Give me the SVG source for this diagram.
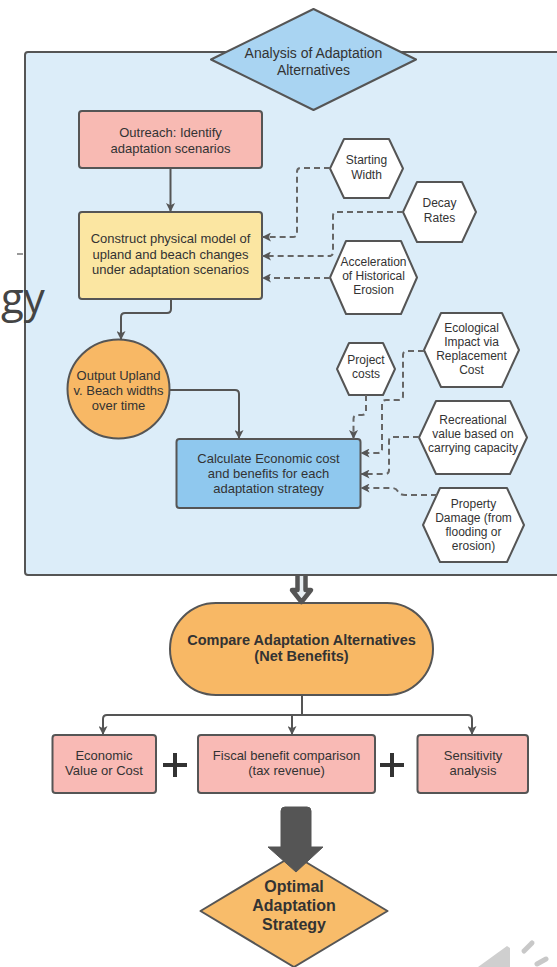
<svg xmlns="http://www.w3.org/2000/svg" width="557" height="967" viewBox="0 0 557 967">
<style>
  text { font-family: "Liberation Sans", Arial, sans-serif; fill: #333; text-anchor: middle; }
  .t13 { font-size: 13px; }
  .t12 { font-size: 12px; }
  .b { font-weight: bold; }
  .node { stroke: #555; stroke-width: 2; stroke-linejoin: round; }
  .hex { fill: #fff; stroke: #555; stroke-width: 2; stroke-linejoin: round; }
  .solid { fill: none; stroke: #555; stroke-width: 2; }
  .dash { fill: none; stroke: #666; stroke-width: 2; stroke-dasharray: 6 4; }
</style>
<defs>
  <marker id="ah" viewBox="0 0 10 10" refX="10" refY="5" markerWidth="4.5" markerHeight="4.5" orient="auto" markerUnits="strokeWidth">
    <path d="M0,0 L10,5 L0,10 L2.5,5 z" fill="#555"/>
  </marker>
</defs>
<rect width="557" height="967" fill="#fff"/>

<g id="container">
  <rect x="25" y="52" width="545" height="523" rx="3" fill="#dcedf9" stroke="#555" stroke-width="2"/>
</g>
<g id="background-text">
  <text x="1" y="313" style="font-family:'Open Sans',sans-serif;font-size:42px;fill:#444;text-anchor:start">gy</text>
  <line x1="17" y1="254" x2="23" y2="254" stroke="#777" stroke-width="1.5"/>
</g>

<g id="analysis">
  <polygon class="node" points="211,59.5 313.5,9 416,59.5 313.5,110" fill="#a9d4f2"/>
  <text x="313.5" y="58" style="font-size:14px">Analysis of Adaptation</text>
  <text x="313.5" y="75" style="font-size:14px">Alternatives</text>
</g>

<g id="outreach">
  <rect class="node" x="79" y="111" width="183" height="57" rx="3" fill="#f8bab3"/>
  <text class="t13" x="170.5" y="137">Outreach: Identify</text>
  <text class="t13" x="170.5" y="153">adaptation scenarios</text>
</g>

<g id="construct">
  <rect class="node" x="79" y="212" width="183" height="87" rx="3" fill="#fbe6a2"/>
  <text class="t13" x="170.5" y="243">Construct physical model of</text>
  <text class="t13" x="170.5" y="259">upland and beach changes</text>
  <text class="t13" x="170.5" y="274">under adaptation scenarios</text>
</g>

<g id="starting-width">
  <polygon class="hex" points="330,168.5 344,139 389,139 403,168.5 389,198 344,198"/>
  <text class="t12" x="366.5" y="164">Starting</text>
  <text class="t12" x="366.5" y="179">Width</text>
</g>

<g id="decay-rates">
  <polygon class="hex" points="403,212 417,182 462,182 476,212 462,242 417,242"/>
  <text class="t12" x="439.5" y="207">Decay</text>
  <text class="t12" x="439.5" y="222">Rates</text>
</g>

<g id="acceleration">
  <polygon class="hex" points="330,277.5 346,241 401,241 417,277.5 401,314 346,314"/>
  <text class="t12" x="373.5" y="266">Acceleration</text>
  <text class="t12" x="373.5" y="280">of Historical</text>
  <text class="t12" x="373.5" y="294">Erosion</text>
</g>

<g id="output-widths">
  <ellipse class="node" cx="118.5" cy="389" rx="51" ry="49.5" fill="#f8b865"/>
  <text class="t13" x="118.5" y="380">Output Upland</text>
  <text class="t13" x="118.5" y="395">v. Beach widths</text>
  <text class="t13" x="118.5" y="410">over time</text>
</g>

<g id="project-costs">
  <polygon class="hex" points="337,369 349,343 383,343 395,369 383,395 349,395"/>
  <text class="t12" x="366" y="364">Project</text>
  <text class="t12" x="366" y="378">costs</text>
</g>

<g id="ecological">
  <polygon class="hex" points="424,350 441,313 502,313 519,350 502,387 441,387"/>
  <text class="t12" x="471.5" y="332">Ecological</text>
  <text class="t12" x="471.5" y="346">Impact via</text>
  <text class="t12" x="471.5" y="360">Replacement</text>
  <text class="t12" x="471.5" y="374">Cost</text>
</g>

<g id="recreational">
  <polygon class="hex" points="419,437.5 436,401 510,401 527,437.5 510,474 436,474"/>
  <text class="t12" x="473" y="424">Recreational</text>
  <text class="t12" x="473" y="438">value based on</text>
  <text class="t12" x="473" y="452">carrying capacity</text>
</g>

<g id="property-damage">
  <polygon class="hex" points="423,525 440,488 507,488 524,525 507,562 440,562"/>
  <text class="t12" x="473.5" y="508">Property</text>
  <text class="t12" x="473.5" y="522">Damage (from</text>
  <text class="t12" x="473.5" y="536">flooding or</text>
  <text class="t12" x="473.5" y="550">erosion)</text>
</g>

<g id="calculate">
  <rect class="node" x="176.5" y="439" width="184" height="69" rx="3" fill="#8fc8ee"/>
  <text class="t13" x="268.5" y="463">Calculate Economic cost</text>
  <text class="t13" x="268.5" y="478">and benefits for each</text>
  <text class="t13" x="268.5" y="493">adaptation strategy</text>
</g>

<g id="compare">
  <rect class="node" x="170" y="603" width="263" height="92" rx="46" fill="#f8b865"/>
  <text class="b" x="301.5" y="645" style="font-size:14.5px">Compare Adaptation Alternatives</text>
  <text class="b" x="301.5" y="661" style="font-size:14.5px">(Net Benefits)</text>
</g>

<g id="economic-value">
  <rect class="node" x="52.5" y="735" width="103.5" height="58" rx="3" fill="#f9bab5"/>
  <text class="t13" x="104" y="760">Economic</text>
  <text class="t13" x="104" y="775">Value or Cost</text>
</g>

<g id="fiscal-benefit">
  <rect class="node" x="198" y="735" width="177" height="58" rx="3" fill="#f9bab5"/>
  <text class="t13" x="286.5" y="760">Fiscal benefit comparison</text>
  <text class="t13" x="286.5" y="775">(tax revenue)</text>
</g>

<g id="sensitivity">
  <rect class="node" x="417.5" y="735" width="110.5" height="58" rx="3" fill="#f9bab5"/>
  <text class="t13" x="473" y="760">Sensitivity</text>
  <text class="t13" x="473" y="775">analysis</text>
</g>

<g id="plus-signs" stroke="#333" stroke-width="4">
  <line x1="163" y1="765" x2="187" y2="765"/>
  <line x1="175" y1="753" x2="175" y2="777"/>
  <line x1="380" y1="765" x2="404" y2="765"/>
  <line x1="392" y1="753" x2="392" y2="777"/>
</g>

<g id="optimal">
  <polygon class="node" points="200.5,911 294,855 387.5,911 294,967" fill="#f8bc6a"/>
  <text class="b" x="294" y="892" style="font-size:16px">Optimal</text>
  <text class="b" x="294" y="911" style="font-size:16px">Adaptation</text>
  <text class="b" x="294" y="930" style="font-size:16px">Strategy</text>
</g>

<g id="connectors">
  <path class="solid" marker-end="url(#ah)" d="M170.5 168 V212"/>
  <path class="solid" marker-end="url(#ah)" d="M171 299 V309 Q171 313 167 313 H125 Q121 313 121 317 V340"/>
  <path class="solid" marker-end="url(#ah)" d="M169.5 390 H235 Q239 390 239 394 V439"/>
  <path class="dash" marker-end="url(#ah)" d="M330 168 H301 Q297 168 297 172 V233 Q297 237 293 237 H262"/>
  <path class="dash" marker-end="url(#ah)" d="M403 212 H337 Q333 212 333 216 V252 Q333 256 329 256 H262"/>
  <path class="dash" marker-end="url(#ah)" d="M330 278 H262"/>
  <path class="dash" marker-end="url(#ah)" d="M366 395 V411 Q366 415 362 415 H357.5 Q353.5 415 353.5 419 V439"/>
  <path class="dash" marker-end="url(#ah)" d="M424 351 H407 Q403 351 403 355 V396 Q403 400 399 400 H386 Q382 400 382 404 V449 Q382 453 378 453 H360.5"/>
  <path class="dash" marker-end="url(#ah)" d="M419 437 H393 Q389 437 389 441 V470 Q389 474 385 474 H360.5"/>
  <path class="dash" marker-end="url(#ah)" d="M437 495 H405 Q400 495 398 491.5 Q396 488 392 488 H360.5"/>
  <path d="M297.5 576 V590 H292 L301.5 602 L311 590 H305.5 V576" fill="#e8eef2" stroke="#555" stroke-width="4.5" stroke-linejoin="round"/>
  <path class="solid" d="M302 695 V715"/>
  <path class="solid" marker-end="url(#ah)" d="M107 715 Q103 715 103 719 V735"/>
  <path class="solid" marker-end="url(#ah)" d="M107 715 H468 Q472 715 472 719 V735"/>
  <path class="solid" marker-end="url(#ah)" d="M292 715 V735"/>
  <path d="M285 807 H307 Q311 807 311 811 V847 H323 L296 872 L268 847 H281 V811 Q281 807 285 807 Z" fill="#555" stroke="#555" stroke-width="1" stroke-linejoin="round"/>
</g>

<g id="speaker-icon">
  <polygon points="478,967 507,946 510,948 510,967" fill="#cfcfcf"/>
  <line x1="524" y1="951" x2="532" y2="943" stroke="#c8c8c8" stroke-width="5" stroke-linecap="round"/>
  <line x1="537" y1="964" x2="546" y2="959" stroke="#c8c8c8" stroke-width="5" stroke-linecap="round"/>
</g>
</svg>
